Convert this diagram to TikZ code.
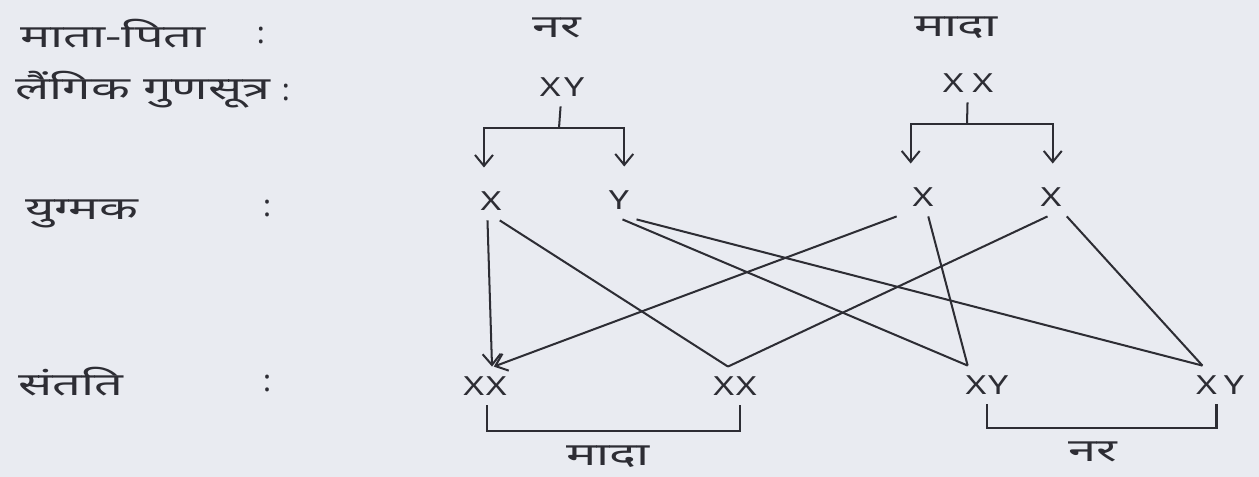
\documentclass[tikz,border=0pt]{standalone}
\usepackage{fontspec}
\setmainfont{Noto Sans}
\newfontfamily\deva[Script=Devanagari,FakeStretch=1.6]{Noto Sans}
\newfontfamily\chromfont[FakeStretch=1.35]{Noto Sans}
\usetikzlibrary{arrows.meta,positioning}
\definecolor{paper}{RGB}{233,235,241}
\definecolor{ink}{RGB}{45,45,52}
\tikzset{
  rowlabel/.style={
    anchor=west,
    inner sep=0pt,
    font=\deva\fontsize{18}{21}\selectfont,
    text=ink
  },
  colon/.style={
    inner sep=0pt,
    font=\fontsize{17}{20}\selectfont,
    text=ink
  },
  sexlabel/.style={
    inner sep=0pt,
    font=\deva\fontsize{18}{21}\selectfont,
    text=ink
  },
  chrom/.style={
    inner sep=5.5pt,
    font=\chromfont\fontsize{15}{18}\selectfont,
    text=ink
  },
  wire/.style={ink, line width=1.15pt},
  flow/.style={-{Straight Barb[length=2.2mm,width=3.6mm]}, ink, line width=1.15pt}
}

\begin{document}
\begin{tikzpicture}[x=0.02cm, y=-0.02cm]
\fill[paper] (0,0) rectangle (1259,477);

\node[rowlabel] (lparent) at (20,34) {माता-पिता};
\node[colon] (cparent) at (261,35) {:};
\node[rowlabel] (lchrom) at (15,90) {लैंगिक गुणसूत्र};
\node[colon] (cchrom) at (286,92) {:};
\node[rowlabel] (lgamete) at (25,214) {युग्मक};
\node[colon] (cgamete) at (267,208) {:};
\node[rowlabel] (lchild) at (18,382) {संतति};
\node[colon] (cchild) at (267,383) {:};

\node[sexlabel] (male) at (557,28) {नर};
\node[sexlabel] (female) at (956,28) {मादा};
\node[chrom] (pm) at (562,87) {X\hspace{2pt}Y};
\node[chrom] (pf) at (968,83) {X\hspace{5pt}X};

\node[chrom] (g1) at (491,201) {X};
\node[chrom] (g2) at (619,200) {Y};
\node[chrom] (g3) at (923,197) {X};
\node[chrom] (g4) at (1051,197) {X};

\node[chrom] (o1) at (485,386) {X\hspace{1pt}X};
\node[chrom] (o2) at (735,386) {X\hspace{1pt}X};
\node[chrom] (o3) at (987,385) {X\hspace{1pt}Y};
\node[chrom] (o4) at (1220,385) {X\hspace{4pt}Y};

\node[sexlabel] (femkids) at (608,457) {मादा};
\node[sexlabel] (malekids) at (1093,452) {नर};

\coordinate (bm) at (559,128);
\coordinate (bf) at (967,124);
\draw[wire] (pm) -- (bm);
\draw[flow, shorten >=8pt] (bm) -| ([xshift=-4pt]g1.north);
\draw[flow, shorten >=8pt] (bm) -| ([xshift=3pt]g2.north);
\draw[wire] (pf) -- (bf);
\draw[flow, shorten >=8pt] (bf) -| ([xshift=-7pt]g3.north);
\draw[flow, shorten >=8pt] (bf) -| ([xshift=1pt]g4.north);

\draw[flow] ([xshift=-2pt]g1.south) -- ([xshift=4pt]o1.north);
\draw[wire] ([xshift=5pt]g1.south) -- ([xshift=-4pt]o2.north);
\draw[wire] ([xshift=2pt]g2.south) -- ([xshift=-11pt]o3.north);
\draw[wire] ([xshift=10pt]g2.south) -- ([xshift=-10pt]o4.north);
\draw[flow] ([xshift=-15pt]g3.south) -- ([xshift=5pt]o1.north);
\draw[wire] ([xshift=3pt]g3.south) -- ([xshift=-11pt]o3.north);
\draw[wire] ([xshift=-2pt]g4.south) -- ([xshift=-4pt]o2.north);
\draw[wire] ([xshift=9pt]g4.south) -- ([xshift=-10pt]o4.north);

\draw[wire] ([xshift=1pt]o1.south) -- ++(0,26) -| ([xshift=3pt]o2.south);
\draw[wire] (o3.south) -- ++(0,24) -| ([xshift=-2pt]o4.south);
\end{tikzpicture}
\end{document}
